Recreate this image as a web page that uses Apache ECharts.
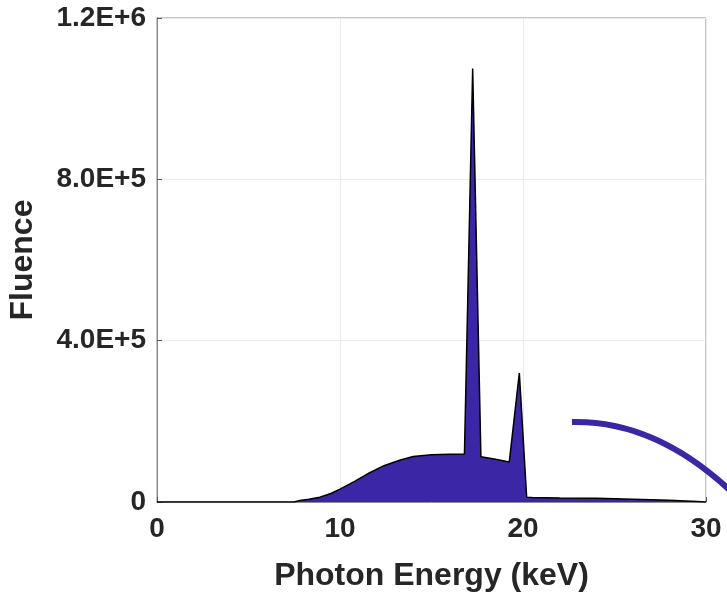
<!DOCTYPE html>
<html lang="en">
<head>
<meta charset="UTF-8">
<title>Fluence spectrum</title>
<style>
  html, body { margin: 0; padding: 0; background: #fff; }
  #chart { width: 727px; height: 593px; }
</style>
</head>
<body>
<div id="chart"></div>
<script src="https://cdn.jsdelivr.net/npm/echarts@6/dist/echarts.min.js"></script>
<script>
// photon energy (keV) and fluence
var energy = [0, 7.5, 7.8, 8.3, 8.9, 9.5, 10, 10.8, 11.6, 12.4, 13.3, 14, 15, 16, 16.8,
              17.25, 17.7, 18.5, 19.25, 19.8, 20.2, 20.5, 22, 24, 26, 28, 29.5, 30];
var fluence = [0, 0, 4000, 7000, 12000, 21000, 32000, 51000, 72000, 90000, 104000, 113000, 117000, 118500, 119000,
               1075000, 112000, 106000, 99000, 320000, 12000, 11000, 10000, 9000, 7000, 4500, 1500, 0];

var xTicks = [0, 10, 20, 30];
var yTicks = [0, 400000, 800000, 1200000];
var yTickLabels = ['0', '4.0E+5', '8.0E+5', '1.2E+6'];

var spectrum = energy.map(function (e, i) { return [e, fluence[i]]; });

var chart = echarts.init(document.getElementById('chart'));
var txt = '#262626';
var font = 'Liberation Sans';

chart.setOption({
  animation: false,
  grid: {
    left: 157, right: 21, top: 18, bottom: 91, outerBoundsMode: 'none',
    show: true, borderColor: '#8c8c8c', borderWidth: 1
  },
  xAxis: {
    type: 'value', min: xTicks[0], max: xTicks[xTicks.length - 1], interval: 10,
    name: 'Photon Energy (keV)', nameLocation: 'middle', nameGap: 58,
    nameTextStyle: { color: txt, fontSize: 32, fontWeight: 'bold', fontFamily: font },
    axisLine: { lineStyle: { color: '#8c8c8c' } },
    axisTick: { inside: true, length: 5, lineStyle: { color: '#555' } },
    axisLabel: { color: txt, fontSize: 28, fontWeight: 'bold', fontFamily: font, margin: 13 },
    splitLine: { show: true, lineStyle: { color: '#ebebeb' } }
  },
  yAxis: {
    type: 'value', min: yTicks[0], max: yTicks[yTicks.length - 1], interval: 400000,
    name: 'Fluence', nameLocation: 'middle', nameGap: 118,
    nameTextStyle: { color: txt, fontSize: 32, fontWeight: 'bold', fontFamily: font },
    axisLine: { show: true, lineStyle: { color: '#8c8c8c' } },
    axisTick: { show: true, inside: true, length: 5, lineStyle: { color: '#555' } },
    axisLabel: {
      color: txt, fontSize: 28, fontWeight: 'bold', fontFamily: font, margin: 11,
      formatter: function (v) { return yTickLabels[yTicks.indexOf(v)]; }
    },
    splitLine: { show: true, lineStyle: { color: '#ebebeb' } }
  },
  series: [{
    type: 'line',
    data: spectrum,
    showSymbol: false,
    smooth: false,
    lineStyle: { color: '#000', width: 1.5 },
    areaStyle: { color: '#3b27a6', opacity: 1 }
  }],
  graphic: [{
    type: 'bezierCurve',
    shape: { x1: 572, y1: 422, cpx1: 660, cpy1: 420, x2: 740, y2: 500 },
    style: { stroke: '#3b27a6', lineWidth: 6, fill: null },
    z: 100
  }]
});
</script>
</body>
</html>
